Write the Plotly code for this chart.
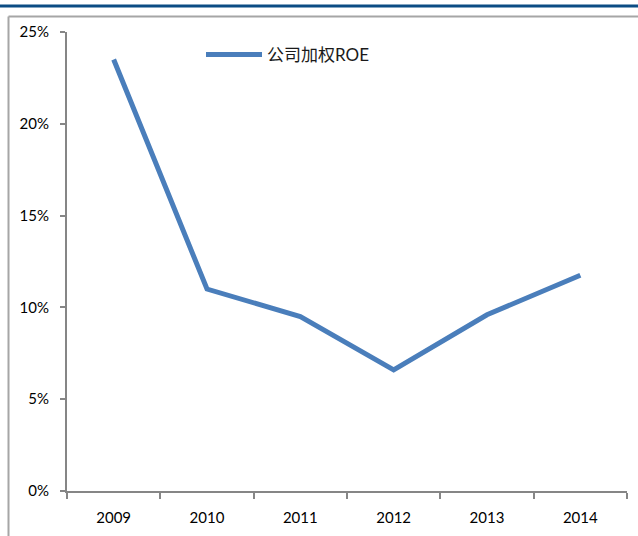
import plotly.graph_objects as go

years = ["2009", "2010", "2011", "2012", "2013", "2014"]
roe = [0.235, 0.110, 0.095, 0.066, 0.096, 0.1175]
series_name = "公司加权ROE"

W, H = 638, 536
ML, MR, MT, MB = 67, 11, 32, 45
PW, PH = W - ML - MR, H - MT - MB

def px_x(x):
    return (x - ML) / PW

def px_y(y):
    return 1 - (y - MT) / PH

FONT = "Lato, 'Noto Sans CJK SC', sans-serif"
AXIS_COLOR = "#868686"

fig = go.Figure()
fig.add_trace(go.Scatter(
    x=years, y=roe, mode="lines", name=series_name,
    line=dict(color="#4A7EBB", width=5),
))

fig.update_layout(
    width=W, height=H,
    margin=dict(l=ML, r=MR, t=MT, b=MB),
    paper_bgcolor="white", plot_bgcolor="white",
    font=dict(family=FONT, size=15, color="#000000"),
    showlegend=True,
    legend=dict(
        x=px_x(201), y=px_y(37), xanchor="left", yanchor="top",
        bgcolor="rgba(0,0,0,0)", itemwidth=56,
        font=dict(family=FONT, size=17, color="#1a1a1a"),
    ),
    xaxis=dict(
        type="category", range=[-0.5, 5.5],
        showline=True, linecolor=AXIS_COLOR, linewidth=2,
        ticks="outside", tickson="boundaries", ticklen=6, tickwidth=2,
        tickcolor=AXIS_COLOR, showgrid=False, zeroline=False,
        ticklabelstandoff=12,
    ),
    yaxis=dict(
        range=[0, 0.25], dtick=0.05, tickformat=".0%",
        showline=True, linecolor=AXIS_COLOR, linewidth=2,
        ticks="outside", ticklen=5, tickwidth=2, tickcolor=AXIS_COLOR,
        showgrid=False, zeroline=False, ticklabelstandoff=8,
    ),
    shapes=[
        dict(type="line", xref="paper", yref="paper",
             x0=px_x(0), x1=px_x(W), y0=px_y(6), y1=px_y(6),
             line=dict(color="#0B4C84", width=3)),
        dict(type="line", xref="paper", yref="paper",
             x0=px_x(8.5), x1=px_x(W + 5), y0=px_y(16.5), y1=px_y(16.5),
             line=dict(color="#A6A6A6", width=2)),
        dict(type="line", xref="paper", yref="paper",
             x0=px_x(8.5), x1=px_x(8.5), y0=px_y(16.5), y1=px_y(H + 5),
             line=dict(color="#A6A6A6", width=2)),
    ],
)

fig.write_html("out.html")
